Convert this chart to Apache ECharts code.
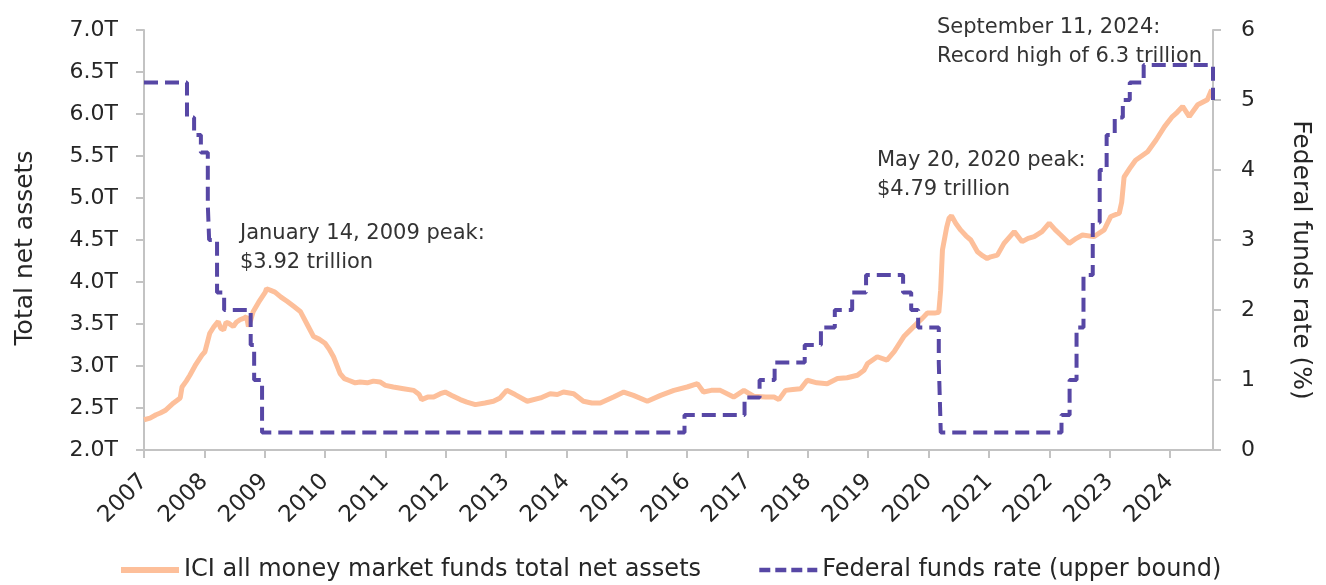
<!DOCTYPE html>
<html>
<head>
<meta charset="utf-8">
<script src="https://cdn.jsdelivr.net/npm/echarts@6/dist/echarts.min.js"></script>
<style>
  html, body { margin: 0; padding: 0; background: #fff; }
  #chart { width: 1326px; height: 585px; }
</style>
</head>
<body>
<div id="chart"></div>
<script>
// year ticks on the x axis
var yearTicks = [2007, 2008, 2009, 2010, 2011, 2012, 2013, 2014, 2015, 2016,
                 2017, 2018, 2019, 2020, 2021, 2022, 2023, 2024];

// ICI money market funds total net assets (trillions), by decimal year
var assetYears = [
  2007.00, 2007.10, 2007.20, 2007.27, 2007.35, 2007.49, 2007.60, 2007.63, 2007.70, 2007.76,
  2007.86, 2007.96, 2008.01, 2008.09, 2008.16, 2008.23, 2008.27, 2008.32, 2008.36, 2008.40,
  2008.48, 2008.53, 2008.59, 2008.66, 2008.70, 2008.73, 2008.77, 2008.81, 2008.90, 2009.01,
  2009.03, 2009.10, 2009.17, 2009.27, 2009.37, 2009.48, 2009.59, 2009.70, 2009.81, 2009.90,
  2010.00, 2010.07, 2010.14, 2010.25, 2010.32, 2010.39, 2010.50, 2010.58, 2010.70, 2010.80,
  2010.91, 2011.00, 2011.13, 2011.30, 2011.47, 2011.56, 2011.60, 2011.70, 2011.80, 2011.91,
  2011.99, 2012.10, 2012.24, 2012.35, 2012.49, 2012.65, 2012.79, 2012.90, 2013.01, 2013.15,
  2013.35, 2013.57, 2013.73, 2013.85, 2013.95, 2014.12, 2014.28, 2014.42, 2014.56, 2014.78,
  2014.95, 2015.11, 2015.34, 2015.56, 2015.78, 2016.00, 2016.17, 2016.27, 2016.40, 2016.55,
  2016.77, 2016.94, 2017.10, 2017.30, 2017.44, 2017.52, 2017.63, 2017.75, 2017.88, 2017.99,
  2018.15, 2018.32, 2018.49, 2018.65, 2018.82, 2018.93, 2018.99, 2019.15, 2019.31, 2019.43,
  2019.59, 2019.70, 2019.81, 2019.90, 2019.98, 2020.10, 2020.17, 2020.20, 2020.23, 2020.30,
  2020.34, 2020.38, 2020.45, 2020.53, 2020.62, 2020.70, 2020.81, 2020.90, 2020.97, 2021.03,
  2021.14, 2021.25, 2021.42, 2021.55, 2021.65, 2021.75, 2021.88, 2022.00, 2022.10, 2022.19,
  2022.33, 2022.45, 2022.55, 2022.74, 2022.91, 2023.02, 2023.16, 2023.20, 2023.24, 2023.35,
  2023.43, 2023.53, 2023.63, 2023.77, 2023.91, 2024.04, 2024.12, 2024.21, 2024.32, 2024.46,
  2024.62, 2024.69
];
var assetValues = [
  2.36, 2.38, 2.42, 2.44, 2.47, 2.56, 2.62, 2.75, 2.82, 2.89,
  3.02, 3.13, 3.17, 3.39, 3.47, 3.53, 3.45, 3.43, 3.52, 3.51,
  3.47, 3.52, 3.55, 3.57, 3.59, 3.47, 3.55, 3.65, 3.76, 3.88,
  3.92, 3.90, 3.88, 3.82, 3.77, 3.71, 3.65, 3.50, 3.35, 3.32,
  3.27, 3.20, 3.11, 2.91, 2.85, 2.83, 2.80, 2.81, 2.80, 2.82,
  2.81, 2.77, 2.75, 2.73, 2.71, 2.66, 2.60, 2.63, 2.63, 2.67,
  2.69, 2.65, 2.60, 2.57, 2.54, 2.56, 2.58, 2.62, 2.71, 2.66,
  2.58, 2.62, 2.67, 2.66, 2.69, 2.67, 2.58, 2.56, 2.56, 2.63,
  2.69, 2.65, 2.58, 2.65, 2.71, 2.75, 2.79, 2.69, 2.71, 2.71,
  2.63, 2.71, 2.64, 2.63, 2.63, 2.60, 2.71, 2.72, 2.73, 2.83,
  2.80, 2.79, 2.85, 2.86, 2.89, 2.95, 3.03, 3.11, 3.07, 3.17,
  3.35, 3.43, 3.51, 3.57, 3.63, 3.63, 3.64, 3.90, 4.38, 4.65,
  4.76, 4.79, 4.70, 4.62, 4.55, 4.50, 4.36, 4.31, 4.28, 4.30,
  4.32, 4.46, 4.60, 4.48, 4.52, 4.54, 4.60, 4.70, 4.62, 4.56,
  4.46, 4.52, 4.56, 4.54, 4.62, 4.78, 4.82, 4.95, 5.25, 5.37,
  5.45, 5.50, 5.55, 5.69, 5.85, 5.97, 6.02, 6.09, 5.97, 6.11,
  6.17, 6.29
];

// Federal funds rate upper bound (%), change dates
var rateDates = [
  '2007-01-01', '2007-09-18', '2007-10-31', '2007-12-11', '2008-01-22', '2008-01-30',
  '2008-03-18', '2008-04-30', '2008-10-08', '2008-10-29', '2008-12-16', '2015-12-16',
  '2016-12-14', '2017-03-15', '2017-06-14', '2017-12-13', '2018-03-21', '2018-06-13',
  '2018-09-26', '2018-12-19', '2019-07-31', '2019-09-18', '2019-10-30', '2020-03-03',
  '2020-03-15', '2022-03-16', '2022-05-04', '2022-06-15', '2022-07-27', '2022-09-21',
  '2022-11-02', '2022-12-14', '2023-02-01', '2023-03-22', '2023-05-03', '2023-07-26',
  '2024-09-18'
];
var rateValues = [
  5.25, 4.75, 4.50, 4.25, 3.50, 3.00,
  2.25, 2.00, 1.50, 1.00, 0.25, 0.50,
  0.75, 1.00, 1.25, 1.50, 1.75, 2.00,
  2.25, 2.50, 2.25, 2.00, 1.75, 1.25,
  0.25, 0.50, 1.00, 1.75, 2.50, 3.25,
  4.00, 4.50, 4.75, 5.00, 5.25, 5.50,
  5.00
];

var xEnd = '2024-09-18';

function decYear(s) {
  var d = Date.parse(s + 'T00:00:00Z');
  var y = new Date(d).getUTCFullYear();
  var a = Date.UTC(y, 0, 1), b = Date.UTC(y + 1, 0, 1);
  return y + (d - a) / (b - a);
}

var assetData = assetYears.map(function(y, i) { return [y, assetValues[i]]; });
var rateData = rateDates.map(function(d, i) { return [decYear(d), rateValues[i]]; });

var FONT = '"DejaVu Sans", sans-serif';
var TXT = '#262626';
var AXIS = '#c3c3c3';
var ORANGE = '#fdbf9a';
var PURPLE = '#5747a5';

var chart = echarts.init(document.getElementById('chart'));

chart.setOption({
  animation: false,
  textStyle: { fontFamily: FONT },
  grid: { left: 144, right: 113, top: 30, bottom: 135 },
  legend: {
    left: 113,
    top: 553,
    itemWidth: 58,
    itemHeight: 14,
    itemGap: 56,
    itemStyle: { opacity: 0 },
    textStyle: { fontSize: 24, color: TXT, fontFamily: FONT },
    data: [
      { name: 'ICI all money market funds total net assets', lineStyle: { width: 6 } },
      { name: 'Federal funds rate (upper bound)', lineStyle: { width: 4.5, type: [11, 5] } }
    ]
  },
  xAxis: {
    type: 'value',
    min: 2007,
    max: decYear(xEnd),
    splitLine: { show: false },
    axisLine: { lineStyle: { color: AXIS, width: 2 } },
    axisTick: { show: true, length: 8, lineStyle: { color: AXIS, width: 2 }, customValues: yearTicks },
    axisLabel: {
      customValues: yearTicks,
      rotate: 45,
      margin: 28,
      fontSize: 23,
      color: TXT,
      fontFamily: FONT,
      formatter: function(v) { return String(Math.round(v)); }
    }
  },
  yAxis: [
    {
      type: 'value',
      min: 2,
      max: 7,
      interval: 0.5,
      splitLine: { show: false },
      axisLine: { show: true, lineStyle: { color: AXIS, width: 2 } },
      axisTick: { show: true, length: 8, lineStyle: { color: AXIS, width: 2 } },
      axisLabel: {
        margin: 26,
        fontSize: 22,
        color: TXT,
        fontFamily: FONT,
        formatter: function(v) { return v.toFixed(1) + 'T'; }
      }
    },
    {
      type: 'value',
      position: 'right',
      min: 0,
      max: 6,
      interval: 1,
      splitLine: { show: false },
      axisLine: { show: true, lineStyle: { color: AXIS, width: 2 } },
      axisTick: { show: true, length: 8, lineStyle: { color: AXIS, width: 2 } },
      axisLabel: { margin: 28, fontSize: 22, color: TXT, fontFamily: FONT }
    }
  ],
  graphic: [
    {
      type: 'text', x: 25, y: 248, rotation: Math.PI / 2,
      style: { text: 'Total net assets', fontSize: 25, fill: TXT, fontFamily: FONT, align: 'center', verticalAlign: 'middle' }
    },
    {
      type: 'text', x: 1300, y: 260, rotation: -Math.PI / 2,
      style: { text: 'Federal funds rate (%)', fontSize: 25, fill: TXT, fontFamily: FONT, align: 'center', verticalAlign: 'middle' }
    },
    {
      type: 'text', left: 240, top: 219,
      style: { text: 'January 14, 2009 peak:\n$3.92 trillion', fontSize: 21, lineHeight: 29, fill: '#333', fontFamily: FONT }
    },
    {
      type: 'text', left: 877, top: 146,
      style: { text: 'May 20, 2020 peak:\n$4.79 trillion', fontSize: 21, lineHeight: 29, fill: '#333', fontFamily: FONT }
    },
    {
      type: 'text', left: 937, top: 13,
      style: { text: 'September 11, 2024:\nRecord high of 6.3 trillion', fontSize: 21, lineHeight: 29, fill: '#333', fontFamily: FONT }
    }
  ],
  series: [
    {
      name: 'ICI all money market funds total net assets',
      type: 'line',
      yAxisIndex: 0,
      data: assetData,
      symbol: 'none',
      lineStyle: { color: ORANGE, width: 5 },
      itemStyle: { color: ORANGE }
    },
    {
      name: 'Federal funds rate (upper bound)',
      type: 'line',
      yAxisIndex: 1,
      data: rateData,
      step: 'end',
      symbol: 'none',
      lineStyle: { color: PURPLE, width: 4, type: [14, 7] },
      itemStyle: { color: PURPLE }
    }
  ]
});
</script>
</body>
</html>
